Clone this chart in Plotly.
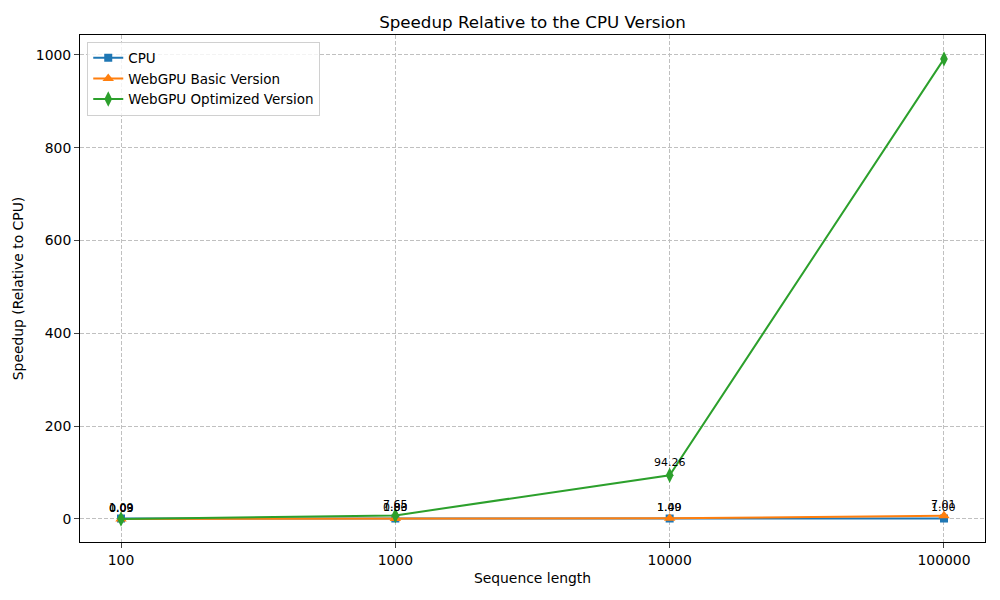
import math
import plotly.graph_objects as go

# Sequence lengths and speedups relative to CPU
seq_len = [100, 1000, 10000, 100000]
cpu = [1.00, 1.00, 1.00, 1.00]
webgpu_basic = [0.09, 0.83, 1.49, 7.01]
webgpu_opt = [0.03, 7.65, 94.26, 991.46]
tick_labels = ["100", "1000", "10000", "100000"]

series = [
    ("CPU", cpu, "#1f77b4", "square", 8),
    ("WebGPU Basic Version", webgpu_basic, "#ff7f0e", "triangle-up", 10),
    ("WebGPU Optimized Version", webgpu_opt, "#2ca02c", "diamond-tall", 11),
]

fig = go.Figure()

for name, vals, color, sym, msize in series:
    fig.add_trace(go.Scatter(
        x=seq_len, y=vals, mode="lines+markers", name=name,
        line=dict(color=color, width=2),
        marker=dict(symbol=sym, size=msize, color=color),
    ))
    # value labels a bit above each point (log axis -> annotation x is log10)
    for xv, yv in zip(seq_len, vals):
        fig.add_annotation(
            x=math.log10(xv), y=yv * 1.05 + 5, text=f"{yv:.2f}",
            showarrow=False, yanchor="bottom",
            font=dict(size=11, color="black"),
        )

fig.update_layout(
    width=1000, height=600,
    plot_bgcolor="white", paper_bgcolor="white",
    font=dict(family="DejaVu Sans", size=13.9, color="black"),
    title=dict(text="Speedup Relative to the CPU Version", x=0.5, xref="paper",
               xanchor="center", y=0.977, yref="container", yanchor="middle",
               font=dict(size=16.7)),
    margin=dict(l=72, r=23, t=27, b=66),
    legend=dict(x=0.008, y=0.987, xanchor="left", yanchor="top",
                bordercolor="#d0d0d0", borderwidth=1, bgcolor="rgba(255,255,255,0.8)",
                font=dict(size=13.5)),
)

fig.update_xaxes(
    type="log", range=[1.8505, 5.1495],
    tickvals=seq_len, ticktext=tick_labels, automargin=False,
    title=dict(text="Sequence length", standoff=6, font=dict(size=13.9)),
    showline=True, linecolor="black", mirror=True, ticks="outside", ticklen=5,
    showgrid=True, gridcolor="#c0c0c0", griddash="4px,2px", zeroline=False,
)
fig.update_yaxes(
    range=[-49.6, 1043], tickvals=[0, 200, 400, 600, 800, 1000], automargin=False,
    title=dict(text="Speedup (Relative to CPU)", standoff=8, font=dict(size=13.9)),
    showline=True, linecolor="black", mirror=True, ticks="outside", ticklen=5,
    showgrid=True, gridcolor="#c0c0c0", griddash="4px,2px", zeroline=False,
)

fig.write_html("out.html")
